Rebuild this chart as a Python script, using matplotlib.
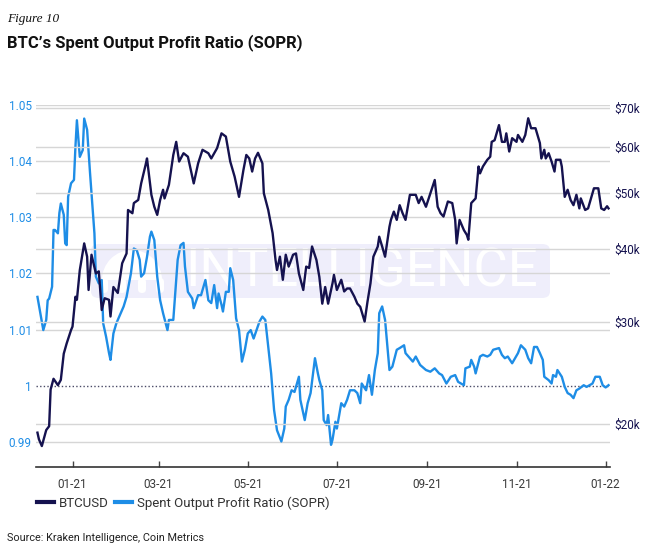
import matplotlib
matplotlib.use("Agg")
import matplotlib.pyplot as plt
import matplotlib.ticker as mticker
import matplotlib.dates as mdates
from matplotlib.patches import FancyBboxPatch, Wedge
from matplotlib.transforms import IdentityTransform
from matplotlib.lines import Line2D
import pandas as pd
import numpy as np

# ---------------- data (days since 2021-01-01) ----------------
btc_days = [-24, -23, -21, -18, -16, -15, -13, -10, -8, -6, -4, -1, 0, 2, 3, 5, 8, 10, 11, 13,
            16, 18, 20, 22, 25, 26, 28, 31, 34, 37, 38, 41, 42, 45, 47, 50, 51, 54, 56, 58,
            60, 62, 63, 66, 68, 69, 71, 73, 76, 79, 83, 86, 89, 93, 95, 99, 102, 105, 108, 111,
            114, 117, 119, 121, 123, 125, 127, 130, 131, 134, 137, 139, 140, 142, 144, 146, 148, 151, 153, 155,
            158, 160, 162, 164, 167, 169, 171, 173, 175, 178, 179, 181, 184, 186, 188, 190, 193, 195, 197, 200,
            202, 204, 206, 209, 210, 212, 214, 217, 218, 220, 222, 224, 226, 228, 231, 235, 237, 239, 242, 245,
            248, 250, 252, 254, 257, 260, 262, 263, 265, 268, 270, 271, 273, 276, 278, 279, 281, 284, 286, 287,
            289, 292, 294, 296, 297, 299, 301, 304, 305, 308, 310, 312, 314, 317, 320, 321, 323, 324, 326, 328,
            330, 331, 334, 335, 337, 339, 341, 343, 345, 347, 348, 351, 353, 355, 357, 360, 362, 364, 366, 367]
btc_price_k = [19.3, 18.8, 18.3, 19.5, 19.8, 22.9, 23.9, 23.3, 23.8, 26.4, 27.5, 29.0, 29.4, 33.1, 32.7, 36.8, 40.9, 38.8, 34.0, 39.1,
               36.3, 36.6, 31.4, 32.9, 32.7, 30.6, 34.4, 33.6, 37.8, 39.3, 46.7, 46.1, 48.0, 48.6, 51.9, 55.8, 57.3, 49.6, 47.3, 45.8,
               48.6, 50.6, 48.9, 51.6, 55.8, 58.1, 61.2, 56.6, 58.5, 57.7, 51.9, 56.2, 59.3, 58.5, 57.3, 59.7, 63.3, 62.5, 56.6, 53.3,
               49.2, 54.7, 58.1, 57.3, 54.4, 57.3, 58.6, 56.2, 49.9, 46.7, 42.6, 38.3, 36.8, 38.8, 35.4, 39.1, 37.3, 39.1, 39.3, 36.3,
               34.0, 37.3, 37.1, 40.4, 38.3, 35.8, 32.2, 34.4, 32.2, 34.9, 36.1, 34.0, 35.4, 33.8, 34.2, 34.2, 33.1, 32.2, 31.8, 30.0,
               32.5, 34.9, 38.8, 40.4, 42.0, 40.4, 38.8, 43.7, 44.9, 46.4, 44.9, 47.6, 46.1, 44.9, 49.6, 49.6, 48.0, 49.2, 47.3, 49.9,
               52.6, 47.3, 46.1, 45.5, 48.3, 48.0, 44.9, 40.9, 44.9, 43.1, 42.3, 41.5, 48.0, 48.9, 55.5, 54.0, 55.5, 57.0, 57.7, 61.2,
               61.6, 65.4, 61.2, 61.2, 63.3, 58.9, 62.1, 61.2, 62.9, 61.2, 62.9, 67.2, 64.6, 64.6, 60.9, 57.3, 59.3, 57.3, 58.5, 56.6,
               54.4, 57.0, 57.0, 55.5, 49.2, 50.6, 48.6, 47.6, 49.6, 47.0, 48.9, 46.7, 47.0, 48.9, 50.9, 50.9, 47.0, 46.7, 47.4, 47.0]

sopr_days = [-24, -22, -21, -20, -18, -17, -16, -14, -13, -12, -10, -9, -8, -6, -5, -4, -3, -1, 1, 2,
             3, 5, 7, 8, 10, 12, 15, 16, 18, 20, 21, 23, 25, 26, 28, 30, 33, 35, 37, 40,
             42, 44, 46, 47, 49, 51, 53, 54, 56, 58, 60, 62, 65, 66, 69, 70, 72, 74, 76, 77,
             79, 82, 83, 86, 88, 91, 93, 95, 97, 99, 100, 102, 103, 105, 107, 108, 110, 112, 114, 116,
             118, 120, 122, 124, 126, 128, 130, 132, 134, 136, 138, 140, 143, 145, 146, 148, 150, 152, 155, 156,
             159, 161, 163, 166, 168, 169, 171, 172, 174, 175, 177, 178, 180, 181, 184, 186, 188, 190, 193, 195,
             197, 198, 201, 203, 205, 207, 209, 210, 212, 214, 215, 217, 219, 222, 224, 227, 228, 230, 233, 235,
             238, 242, 245, 248, 251, 253, 256, 259, 262, 264, 268, 269, 272, 273, 275, 276, 279, 281, 284, 286,
             288, 292, 294, 296, 298, 301, 303, 305, 307, 310, 312, 314, 316, 318, 320, 322, 323, 326, 328, 329,
             331, 332, 335, 337, 339, 341, 343, 345, 347, 350, 352, 354, 356, 358, 361, 363, 365, 367]
sopr_values = [1.0158, 1.0129, 1.0114, 1.0099, 1.0117, 1.0152, 1.0155, 1.0176, 1.0277, 1.0277, 1.0271, 1.0307, 1.0324, 1.0304, 1.0253, 1.0250, 1.0336, 1.0360, 1.0366, 1.0425,
               1.0472, 1.0407, 1.0419, 1.0475, 1.0455, 1.0378, 1.0271, 1.0194, 1.0182, 1.0188, 1.0111, 1.0087, 1.0058, 1.0046, 1.0093, 1.0111, 1.0129, 1.0141, 1.0158, 1.0200,
               1.0244, 1.0241, 1.0224, 1.0194, 1.0200, 1.0229, 1.0265, 1.0274, 1.0259, 1.0194, 1.0152, 1.0129, 1.0099, 1.0117, 1.0117, 1.0152, 1.0224, 1.0250, 1.0254, 1.0212,
               1.0167, 1.0155, 1.0138, 1.0161, 1.0161, 1.0188, 1.0152, 1.0147, 1.0179, 1.0138, 1.0164, 1.0144, 1.0132, 1.0167, 1.0167, 1.0209, 1.0188, 1.0120, 1.0099, 1.0043,
               1.0064, 1.0093, 1.0099, 1.0084, 1.0099, 1.0114, 1.0123, 1.0117, 1.0069, 1.0022, 0.9957, 0.9921, 0.9901, 0.9924, 0.9963, 0.9975, 0.9992, 0.9989, 1.0016, 0.9975,
               0.9939, 0.9969, 0.9987, 1.0049, 1.0022, 1.0010, 0.9992, 0.9939, 0.9930, 0.9948, 0.9895, 0.9904, 0.9936, 0.9924, 0.9969, 0.9963, 0.9975, 0.9992, 0.9992, 0.9987,
               0.9969, 1.0004, 0.9992, 1.0019, 0.9984, 1.0028, 1.0058, 1.0129, 1.0141, 1.0117, 1.0087, 1.0028, 1.0034, 1.0064, 1.0067, 1.0072, 1.0058, 1.0052, 1.0043, 1.0052,
               1.0037, 1.0028, 1.0025, 1.0031, 1.0022, 1.0019, 1.0004, 1.0016, 1.0019, 1.0007, 1.0001, 1.0031, 1.0034, 1.0046, 1.0034, 1.0022, 1.0052, 1.0055, 1.0052, 1.0055,
               1.0064, 1.0067, 1.0055, 1.0049, 1.0052, 1.0040, 1.0049, 1.0058, 1.0072, 1.0064, 1.0049, 1.0040, 1.0069, 1.0069, 1.0058, 1.0046, 1.0016, 1.0010, 1.0004, 1.0019,
               1.0016, 1.0028, 1.0016, 0.9998, 0.9987, 0.9984, 0.9978, 0.9992, 0.9995, 1.0001, 0.9998, 1.0001, 1.0004, 1.0016, 1.0016, 1.0001, 0.9997, 1.0001]

left_ticks = [0.99, 1.00, 1.01, 1.02, 1.03, 1.04, 1.05]
left_labels = ["0.99", "1", "1.01", "1.02", "1.03", "1.04", "1.05"]
right_ticks = [20000, 30000, 40000, 50000, 60000, 70000]
right_labels = ["$20k", "$30k", "$40k", "$50k", "$60k", "$70k"]
x_tick_dates = ["2021-01-01", "2021-03-01", "2021-05-01", "2021-07-01", "2021-09-01", "2021-11-01", "2022-01-01"]

# ---------------- styling ----------------
NAVY = "#15124f"
BLUE = "#1e8de6"
GRID = "#d6d6d6"
base = pd.Timestamp("2021-01-01")
btc_dates = base + pd.to_timedelta(btc_days, unit="D")
sopr_dates = base + pd.to_timedelta(sopr_days, unit="D")
btc_price = np.array(btc_price_k) * 1000

fig = plt.figure(figsize=(6.57, 5.56), dpi=100)
fig.patch.set_facecolor("white")
H = 556

L, R, B, T = 36 / 657, 610 / 657, (H - 467) / H, (H - 104.5) / H
ax = fig.add_axes([L, B, R - L, T - B])
ax2 = ax.twinx()

# watermark (behind everything)
wm = FancyBboxPatch((91 / 657, 1 - 298 / H), (550 - 91) / 657, (298 - 244) / H,
                    boxstyle="round,pad=0,rounding_size=0.012", transform=fig.transFigure,
                    facecolor="#efeefb", edgecolor="none", zorder=0)
fig.patches.append(wm)
pix = IdentityTransform()
fig.patches.append(Wedge((132, H - 280), 30, 0, 180, transform=pix, facecolor="white",
                         edgecolor="none", zorder=0.4))
for lx in (104, 122, 142, 160):
    fig.patches.append(FancyBboxPatch((lx - 4, H - 293), 8, 15, boxstyle="round,pad=0,rounding_size=4",
                                      transform=pix, facecolor="white", edgecolor="none", zorder=0.4))
fig.text(362 / 657, 1 - 272 / H, "INTELLIGENCE", fontsize=38, fontweight="normal",
         family=["Roboto", "DejaVu Sans"], color="white", ha="center", va="center", zorder=0.5)

ax.set_zorder(1)
ax2.set_zorder(2)
ax.patch.set_visible(False)
ax2.patch.set_visible(False)

x0 = pd.Timestamp("2020-12-07")
x1 = pd.Timestamp("2022-01-04")

# left axis (SOPR)
ax.set_ylim(0.98556, 1.05)
ax.set_yticks(left_ticks)
ax.set_yticklabels(left_labels)
for t in left_ticks:
    if abs(t - 1.0) < 1e-9:
        ax.axhline(t, color="#4a4a66", lw=1.0, ls=(0, (1, 1.6)), zorder=1)
    else:
        ax.axhline(t, color=GRID, lw=1.0, zorder=0.5)
ax.plot(sopr_dates, sopr_values, color=BLUE, lw=1.7, zorder=3, solid_joinstyle="round")
ax.set_ylim(0.98556, 1.05)

# right axis (BTC, log)
ax2.set_yscale("log")
ax2.set_ylim(16840, 70980)
ax2.yaxis.set_major_locator(mticker.FixedLocator(right_ticks))
ax2.yaxis.set_major_formatter(mticker.FixedFormatter(right_labels))
ax2.yaxis.set_minor_locator(mticker.NullLocator())
for t in right_ticks:
    ax2.axhline(t, color=GRID, lw=1.0, zorder=0.5)
ax2.plot(btc_dates, btc_price, color=NAVY, lw=1.7, zorder=3, solid_joinstyle="round")
ax2.set_ylim(16840, 70980)

# x axis
ax.set_xlim(x0, x1)
ax2.set_xlim(x0, x1)
ax.set_xticks(pd.to_datetime(x_tick_dates))
ax.xaxis.set_major_formatter(mdates.DateFormatter("%m-%y"))

tick_font = ["Roboto", "DejaVu Sans"]
ax.tick_params(axis="y", length=0, pad=3, labelsize=8.5, labelcolor=BLUE)
ax2.tick_params(axis="y", length=0, pad=3, labelsize=8.5, labelcolor=NAVY)
ax.tick_params(axis="x", direction="in", length=4, width=1, color="#444444", pad=8,
               labelsize=8.5, labelcolor="#3a3a3a")
for lab in ax.get_xticklabels() + ax.get_yticklabels() + ax2.get_yticklabels():
    lab.set_family(tick_font)

for a in (ax, ax2):
    for s in ("left", "right", "top"):
        a.spines[s].set_visible(False)
ax2.spines["bottom"].set_visible(False)
ax.spines["bottom"].set_color("#333333")
ax.spines["bottom"].set_linewidth(1.2)

# legend
handles = [Line2D([], [], color=NAVY, lw=3), Line2D([], [], color=BLUE, lw=3)]
fig.legend(handles, ["BTCUSD", "Spent Output Profit Ratio (SOPR)"], loc="center left",
           bbox_to_anchor=(37 / 657, 1 - 503 / H), ncol=2, frameon=False,
           prop={"family": tick_font, "size": 9.5}, labelcolor="#333333",
           handlelength=1.3, handletextpad=0.35, columnspacing=0.5, borderpad=0, borderaxespad=0)

# titles & source
fig.text(7 / 657, 1 - 22 / H, "Figure 10", fontsize=9.5, style="italic",
         family=["Liberation Serif", "DejaVu Serif"], color="#111111", va="baseline")
fig.text(7 / 657, 1 - 47 / H, "BTC\u2019s Spent Output Profit Ratio (SOPR)", fontsize=12,
         fontweight="bold", family=["Roboto", "DejaVu Sans"], color="#111111", va="baseline")
fig.text(7 / 657, 1 - 541 / H, "Source: Kraken Intelligence, Coin Metrics", fontsize=7.8,
         family=["Roboto", "DejaVu Sans"], color="#222222", va="baseline")

fig.savefig("out.png", dpi=100, facecolor="white")
